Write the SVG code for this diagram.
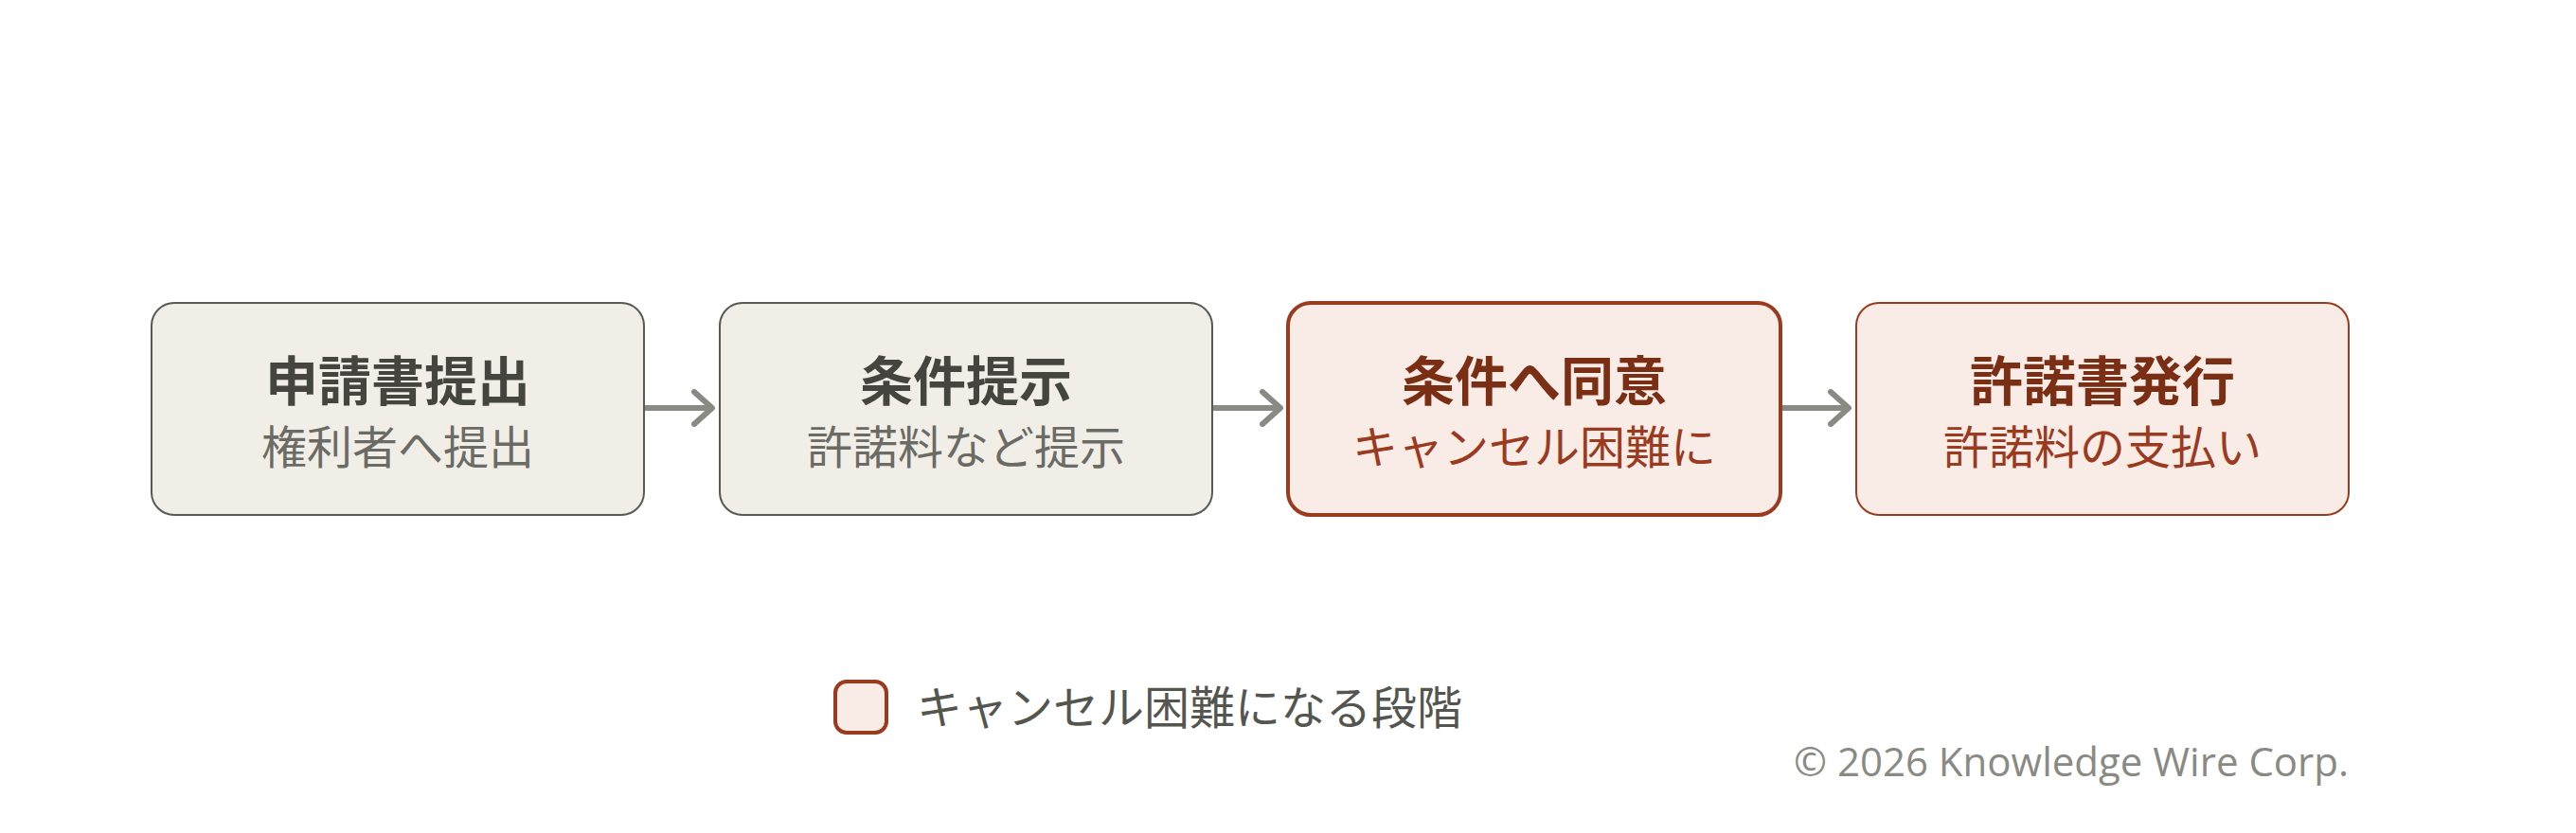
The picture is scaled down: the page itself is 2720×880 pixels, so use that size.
<svg xmlns="http://www.w3.org/2000/svg" width="2720" height="880" viewBox="0 0 2720 880">
<style>
.t{font-family:"Noto Sans CJK JP","Noto Sans",sans-serif;text-anchor:middle}
.title{font-size:56px;font-weight:700}
.sub{font-size:48px;font-weight:400}
.n{fill:#f1eee8;stroke:#5a5a55;stroke-width:2}
.h{fill:#f9ebe6;stroke:#9a3a1e}
.nt{fill:#45453f}
.ns{fill:#6b6b65}
.ht{fill:#7a2e14}
.hs{fill:#9a3a1e}
.c{stroke:#8a8a84;stroke-width:6;fill:none}
</style>
<defs>
<marker id="ah" viewBox="0 0 30 40" refX="27" refY="20" markerWidth="30" markerHeight="40" markerUnits="userSpaceOnUse" orient="auto">
<path d="M8,3 L27,20 L8,37" fill="none" stroke="#8a8a84" stroke-width="6" stroke-linecap="round" stroke-linejoin="round"/>
</marker>
</defs>
<rect width="2720" height="880" fill="#ffffff"/>
<g id="connectors">
<line class="c" x1="680" y1="431" x2="752" y2="431" marker-end="url(#ah)"/>
<line class="c" x1="1280" y1="431" x2="1352" y2="431" marker-end="url(#ah)"/>
<line class="c" x1="1880" y1="431" x2="1952" y2="431" marker-end="url(#ah)"/>
</g>
<g id="node1">
<rect class="n" x="160" y="320" width="520" height="224" rx="24"/>
<text class="t title nt" x="420" y="423">申請書提出</text>
<text class="t sub ns" x="420" y="490">権利者へ提出</text>
</g>
<g id="node2">
<rect class="n" x="760" y="320" width="520" height="224" rx="24"/>
<text class="t title nt" x="1020" y="423">条件提示</text>
<text class="t sub ns" x="1020" y="490">許諾料など提示</text>
</g>
<g id="node3">
<rect class="h" x="1360" y="320" width="520" height="224" rx="24" stroke-width="4"/>
<text class="t title ht" x="1620" y="423">条件へ同意</text>
<text class="t sub hs" x="1620" y="490">キャンセル困難に</text>
</g>
<g id="node4">
<rect class="h" x="1960" y="320" width="520" height="224" rx="24" stroke-width="2"/>
<text class="t title ht" x="2220" y="423">許諾書発行</text>
<text class="t sub hs" x="2220" y="490">許諾料の支払い</text>
</g>
<g id="legend">
<rect x="882" y="720" width="54" height="54" rx="12" fill="#f9ebe6" stroke="#9a3a1e" stroke-width="4"/>
<text x="968" y="765" font-family="Noto Sans CJK JP, sans-serif" font-size="48" fill="#55554f">キャンセル困難になる段階</text>
</g>
<text x="2480" y="820" font-family="Open Sans, Noto Sans, sans-serif" font-size="42" fill="#8a8a84" text-anchor="end">© 2026 Knowledge Wire Corp.</text>
</svg>
